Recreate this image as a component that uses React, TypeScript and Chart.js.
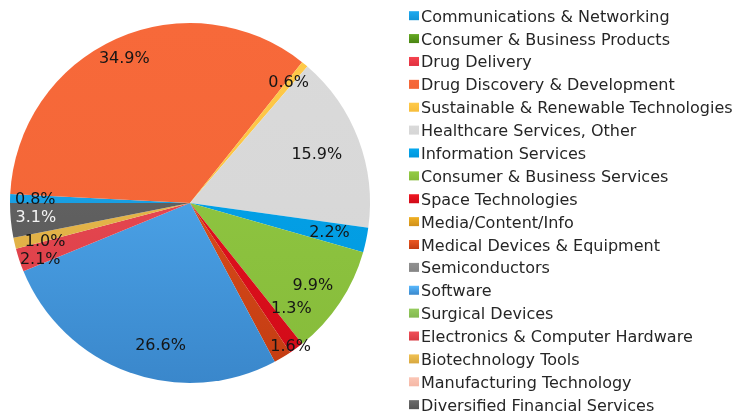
import React, { useEffect, useRef } from "react";
import { Chart, registerables } from "chart.js";

Chart.register(...registerables);

const CATEGORIES = [
  "Communications & Networking",
  "Consumer & Business Products",
  "Drug Delivery",
  "Drug Discovery & Development",
  "Sustainable & Renewable Technologies",
  "Healthcare Services, Other",
  "Information Services",
  "Consumer & Business Services",
  "Space Technologies",
  "Media/Content/Info",
  "Medical Devices & Equipment",
  "Semiconductors",
  "Software",
  "Surgical Devices",
  "Electronics & Computer Hardware",
  "Biotechnology Tools",
  "Manufacturing Technology",
  "Diversified Financial Services",
];

const SHARES = [0.8, 0, 0, 34.9, 0.6, 15.9, 2.2, 9.9, 1.3, 0, 1.6, 0, 26.6, 0, 2.1, 1.0, 0, 3.1];

// style: gradient colours (top / bottom)
const COLORS_TOP = [
  "#1eaaf0", "#64a922", "#f5444f", "#f7693a", "#ffca4a", "#dadada",
  "#06a8ee", "#94cc45", "#f01822", "#f0b023", "#ec5822", "#919191",
  "#59b9fe", "#96cc5e", "#f0505a", "#f0c152", "#fbc6b6", "#6b6b6b",
];
const COLORS_BOTTOM = [
  "#1394d6", "#4a8512", "#e03040", "#f26535", "#f7bd3a", "#d6d6d6",
  "#0096dc", "#86bb3a", "#d00a18", "#d0901a", "#c23c12", "#858585",
  "#3a87cb", "#82b850", "#d83c44", "#d8a840", "#f5b8a6", "#555555",
];

// style: label nudges (px) from default position on bisector
const LABEL_RADIUS = 0.86;
const LABEL_NUDGE: [number, number][] = [
  [0, 1], [0, 0], [0, 0], [-2, -3], [0, -1], [-18, 7],
  [-12, -2], [-6, -3], [10, -19], [0, 0], [21, 11], [0, 0],
  [23, -3], [0, 0], [-3, 8], [6, 4], [0, 0], [0, 0],
];

const FONT = "'DejaVu Sans', Verdana, sans-serif";

function lum(hex: string) {
  const n = parseInt(hex.slice(1), 16);
  const c = [(n >> 16) & 255, (n >> 8) & 255, n & 255].map((v) => {
    const s = v / 255;
    return s <= 0.03928 ? s / 12.92 : Math.pow((s + 0.055) / 1.055, 2.4);
  });
  return 0.2126 * c[0] + 0.7152 * c[1] + 0.0722 * c[2];
}

const labelPlugin = {
  id: "sliceLabels",
  afterDatasetsDraw(chart: any) {
    const { ctx } = chart;
    const meta = chart.getDatasetMeta(0);
    const total = SHARES.reduce((a, b) => a + b, 0);
    ctx.save();
    ctx.font = `16px ${FONT}`;
    ctx.textAlign = "center";
    ctx.textBaseline = "middle";
    meta.data.forEach((arc: any, i: number) => {
      const v = SHARES[i];
      if (!v) return;
      const mid = (arc.startAngle + arc.endAngle) / 2;
      const r = arc.outerRadius * LABEL_RADIUS;
      const x = arc.x + Math.cos(mid) * r + LABEL_NUDGE[i][0];
      const y = arc.y + Math.sin(mid) * r + LABEL_NUDGE[i][1];
      const base = COLORS_TOP[i];
      ctx.fillStyle = lum(base) < 0.15 && parseInt(base.slice(1, 3), 16) < 150 ? "#f4f4f4" : "#151515";
      ctx.fillText(((v / total) * 100).toFixed(1) + "%", x, y);
    });
    ctx.restore();
  },
};

const legendPlugin = {
  id: "sideLegend",
  afterDraw(chart: any) {
    const { ctx } = chart;
    ctx.save();
    ctx.font = `16px ${FONT}`;
    ctx.textAlign = "left";
    ctx.textBaseline = "alphabetic";
    CATEGORIES.forEach((name, i) => {
      const baseY = 21.7 + i * 22.88;
      const bx = 409;
      const by = baseY - 10.5;
      const g = ctx.createLinearGradient(0, by, 0, by + 9);
      g.addColorStop(0, COLORS_TOP[i]);
      g.addColorStop(1, COLORS_BOTTOM[i]);
      ctx.fillStyle = g;
      ctx.fillRect(bx, by, 10, 9);
      ctx.fillStyle = "#262626";
      ctx.fillText(name, 421, baseY);
    });
    ctx.restore();
  },
};

export default function App() {
  const ref = useRef<HTMLCanvasElement | null>(null);
  useEffect(() => {
    if (!ref.current) return;
    const chart = new Chart(ref.current, {
      type: "pie",
      data: {
        labels: CATEGORIES,
        datasets: [
          {
            data: SHARES,
            borderWidth: 0,
            backgroundColor: (c: any) => {
              const area = c.chart.chartArea;
              const i = c.dataIndex;
              if (!area) return COLORS_TOP[i];
              const g = c.chart.ctx.createLinearGradient(0, area.top, 0, area.bottom);
              g.addColorStop(0, COLORS_TOP[i]);
              g.addColorStop(1, COLORS_BOTTOM[i]);
              return g;
            },
          },
        ],
      },
      options: {
        responsive: false,
        animation: false,
        rotation: -90,
        layout: { padding: { left: 10, top: 23, bottom: 31, right: 366 } },
        plugins: {
          legend: { display: false },
          tooltip: { enabled: false },
        },
      },
      plugins: [labelPlugin, legendPlugin],
    });
    return () => chart.destroy();
  }, []);
  return (
    <div style={{ position: "fixed", left: 0, top: 0, width: 736, height: 414, background: "#fff" }}>
      <canvas ref={ref} width={736} height={414} style={{ display: "block" }} />
    </div>
  );
}
